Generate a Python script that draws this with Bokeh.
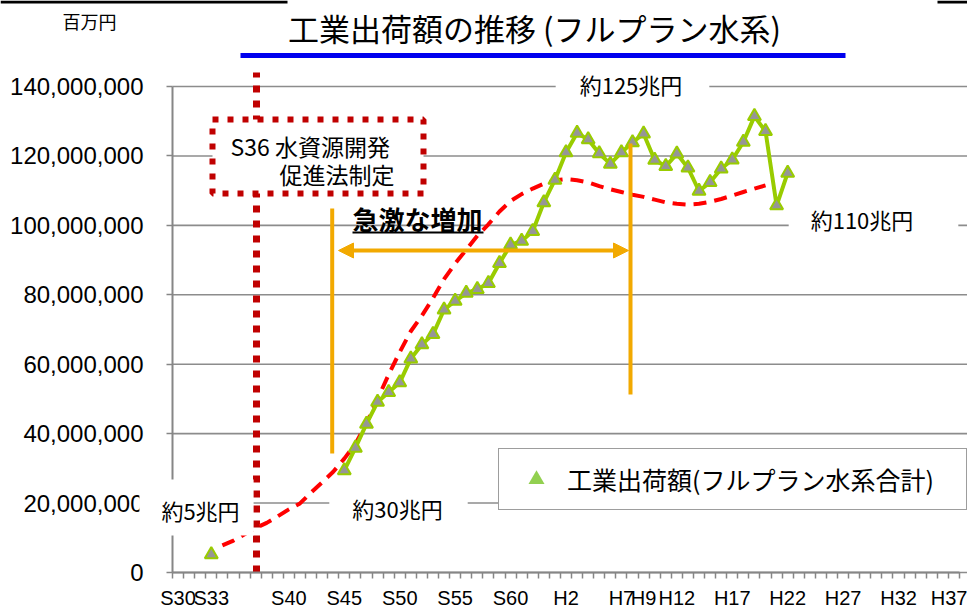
from bokeh.plotting import figure
from bokeh.models import (Range1d, FixedTicker, NumeralTickFormatter, Label, Legend,
                          LegendItem, Arrow, NormalHead)
from bokeh.embed import file_html
from bokeh.resources import INLINE

# ---------------- data (values in 百万円, written in millions) ----------------
first_year = [1958]
first_value_m = [5.2]

series_years = list(range(1970, 2011))
series_values_m = [29.4, 35.9, 42.8, 49.1, 51.9, 54.7, 61.6, 65.7, 68.6, 75.7,
                   78.2, 80.5, 81.6, 83.3, 89.1, 94.4, 95.5, 98.3, 106.6, 113.1,
                   121.0, 126.6, 124.7, 120.7, 117.7, 121.0, 123.9, 126.4, 118.8, 117.0,
                   120.6, 116.6, 109.9, 112.4, 116.3, 118.9, 124.0, 131.4, 127.1, 105.7,
                   115.1]

trend_years = list(range(1959, 2009))
trend_values_m = [7.8, 9.2, 11.0, 12.8, 14.3, 16.2, 18.2, 19.9, 23.0, 26.0,
                  29.0, 32.8, 37.0, 43.0, 50.0, 57.0, 63.5, 69.5, 74.0, 79.0,
                  84.5, 89.0, 93.0, 97.0, 100.3, 104.0, 107.0, 109.0, 110.6, 112.0,
                  113.0, 113.3, 113.0, 112.4, 111.3, 110.4, 109.6, 108.8, 108.2, 107.4,
                  106.6, 106.2, 106.0, 106.2, 106.8, 107.6, 108.6, 109.6, 110.6, 111.5]

tick_years = [1955, 1958, 1965, 1970, 1975, 1980, 1985, 1990, 1995, 1997,
              2000, 2005, 2010, 2015, 2020, 2025]
tick_labels = ["S30", "S33", "S40", "S45", "S50", "S55", "S60", "H2", "H7", "H9",
               "H12", "H17", "H22", "H27", "H32", "H37"]
y_ticks = [0, 20e6, 40e6, 60e6, 80e6, 100e6, 120e6, 140e6]

M = 1e6
first_value = [v * M for v in first_value_m]
series_values = [v * M for v in series_values_m]
trend_values = [v * M for v in trend_values_m]

# ---------------- layout helpers (page pixel -> data units, for annotations) ----------------
W, H = 967, 612
X_LO, X_HI = 1954.5, 2025.5
AX_L, AX_R, AX_B, AX_T = 172, 959, 572, 86      # pixel positions of axis ends
PX_X = (AX_R - AX_L) / (X_HI - X_LO)
PX_Y = (AX_B - AX_T) / 140e6

def X(px):
    return X_LO + (px - AX_L) / PX_X

def Y(py):
    return (AX_B - py) / PX_Y

JP = "Noto Sans CJK JP"
LAT = "Liberation Sans"
GREEN = "#99CC00"
GRAY = "#969696"
DARKRED = "#C00000"
ORANGE = "#F2A900"
AXIS = "#868686"
GRID = "#8c8c8c"

p = figure(width=W, height=H, output_backend="svg", toolbar_location=None,
           x_range=Range1d(X(0), X(W)), y_range=Range1d(Y(H), Y(0)),
           min_border=0, min_border_left=0, min_border_right=0,
           min_border_top=0, min_border_bottom=0)
p.outline_line_color = None
p.background_fill_color = "white"
p.border_fill_color = "white"
p.xgrid.visible = False
p.ygrid.visible = False

# y axis (drawn at the category axis start)
yax = p.yaxis[0]
yax.fixed_location = X_LO
yax.ticker = FixedTicker(ticks=y_ticks)
yax.formatter = NumeralTickFormatter(format="0,0")
yax.bounds = (0, 140e6)
yax.axis_line_color = AXIS
yax.axis_line_width = 2
yax.major_tick_line_color = AXIS
yax.major_tick_line_width = 1.5
yax.major_tick_out = 6
yax.major_tick_in = 0
yax.minor_tick_out = 0
yax.minor_tick_in = 0
yax.major_label_text_font = LAT
yax.major_label_text_font_size = "24px"
yax.major_label_text_color = "black"
yax.major_label_standoff = 23

# x axis
xax = p.xaxis[0]
xax.fixed_location = 0
boundaries = [X_LO + k for k in range(0, int(X_HI - X_LO) + 1)]
xax.ticker = FixedTicker(ticks=tick_years, minor_ticks=boundaries)
xax.major_label_overrides = dict(zip(tick_years, tick_labels))
xax.bounds = (X_LO, X_HI)
xax.axis_line_color = AXIS
xax.axis_line_width = 2
xax.major_tick_out = 0
xax.major_tick_in = 0
xax.minor_tick_out = 6
xax.minor_tick_in = 0
xax.minor_tick_line_color = AXIS
xax.minor_tick_line_width = 1.5
xax.major_label_text_font = LAT
xax.major_label_text_font_size = "20px"
xax.major_label_text_color = "black"
xax.major_label_standoff = 8

# horizontal gridlines, from the axis to the right edge
p.segment(x0=[X_LO] * len(y_ticks), y0=y_ticks, x1=[X(W)] * len(y_ticks), y1=y_ticks,
          line_color=GRID, line_width=1.6)

# black frame remnants at the top edge
p.segment(x0=[X(0), X(937)], y0=[Y(1.5), Y(1.5)], x1=[X(287), X(W)], y1=[Y(1.5), Y(1.5)],
          line_color="black", line_width=3)

# vertical dotted line (S36 law) and its annotation box
p.segment(x0=[X(256)], y0=[0], x1=[X(256)], y1=[Y(72)], line_color=DARKRED,
          line_width=7, line_dash="7 8")
p.quad(left=[X(212)], right=[X(423)], top=[Y(119)], bottom=[Y(193)],
       fill_color="white", line_color=DARKRED, line_width=6, line_dash="6 9")

# trend
p.line(trend_years, trend_values, line_color="#FF0000", line_width=4, line_dash="13 8")

# main series
p.line(series_years, series_values, line_color=GREEN, line_width=4)
p.scatter(series_years, series_values, marker="triangle", size=13,
          fill_color=GRAY, line_color=GREEN, line_width=2)
p.scatter(first_year, first_value, marker="triangle", size=13,
          fill_color=GRAY, line_color=GREEN, line_width=2)

# orange markers of the rapid-growth period
p.segment(x0=[X(331.7), X(630)], y0=[Y(208), Y(143)],
          x1=[X(331.7), X(630)], y1=[Y(453), Y(394)],
          line_color=ORANGE, line_width=4)
p.add_layout(Arrow(start=NormalHead(size=15, fill_color=ORANGE, line_color=ORANGE),
                   end=NormalHead(size=15, fill_color=ORANGE, line_color=ORANGE),
                   x_start=X(338), y_start=Y(250), x_end=X(628), y_end=Y(250),
                   line_color=ORANGE, line_width=4))

# title underline (blue) and underline of 急激な増加
p.line([X(240), X(845)], [Y(55), Y(55)], line_color="#0000EE", line_width=5)
p.line([X(352), X(483)], [Y(232), Y(232)], line_color="black", line_width=2)

def lab(px, py, text, size, align="center", bold=False, pad=None, font=JP, level=None):
    kw = dict(x=X(px), y=Y(py), text=text, text_font=font, text_font_size=size,
              text_align=align, text_baseline="middle", text_color="black",
              text_font_style="bold" if bold else "normal")
    if pad is not None:
        kw["background_fill_color"] = "white"
        kw["background_fill_alpha"] = 1.0
        kw["padding"] = pad
    if level is not None:
        kw["level"] = level
    p.add_layout(Label(**kw))

lab(89, 20, "百万円", "18px")
lab(534, 27, "工業出荷額の推移 (フルプラン水系)", "31px")
lab(230, 145, "S36 水資源開発", "23px", align="left")
lab(279, 173, "促進法制定", "23px", align="left")
lab(352, 218, "急激な増加", "26px", align="left", bold=True)
lab(632, 83, "約125兆円", "22px", pad=dict(left=24, right=27, top=2, bottom=2))
lab(873, 218, "約110兆円", "22px", pad=dict(left=22, right=45, top=2, bottom=2))
lab(196, 507, "約5兆円", "22px", pad=dict(left=22, right=14, top=14, bottom=10),
    level="overlay")
lab(398, 507, "約30兆円", "22px", pad=dict(left=23, right=25, top=5, bottom=5))

# legend (proxy renderer of zero size so that only the legend shows its triangle)
proxy = p.scatter(first_year, first_value, marker="triangle", size=0,
                  fill_color="#92D050", line_color=None)
legend = Legend(items=[LegendItem(label="工業出荷額(フルプラン水系合計)", renderers=[proxy])],
                location=(498, H - 510), padding=10, spacing=0, margin=0,
                glyph_width=54, glyph_height=40, label_height=40, label_width=389,
                label_standoff=4, label_text_font=JP, label_text_font_size="25px",
                label_text_color="black", border_line_color="#3c3c3c",
                border_line_width=1.5, background_fill_color="white",
                background_fill_alpha=1.0)
p.add_layout(legend)

open("out.html", "w").write(file_html(p, INLINE))
